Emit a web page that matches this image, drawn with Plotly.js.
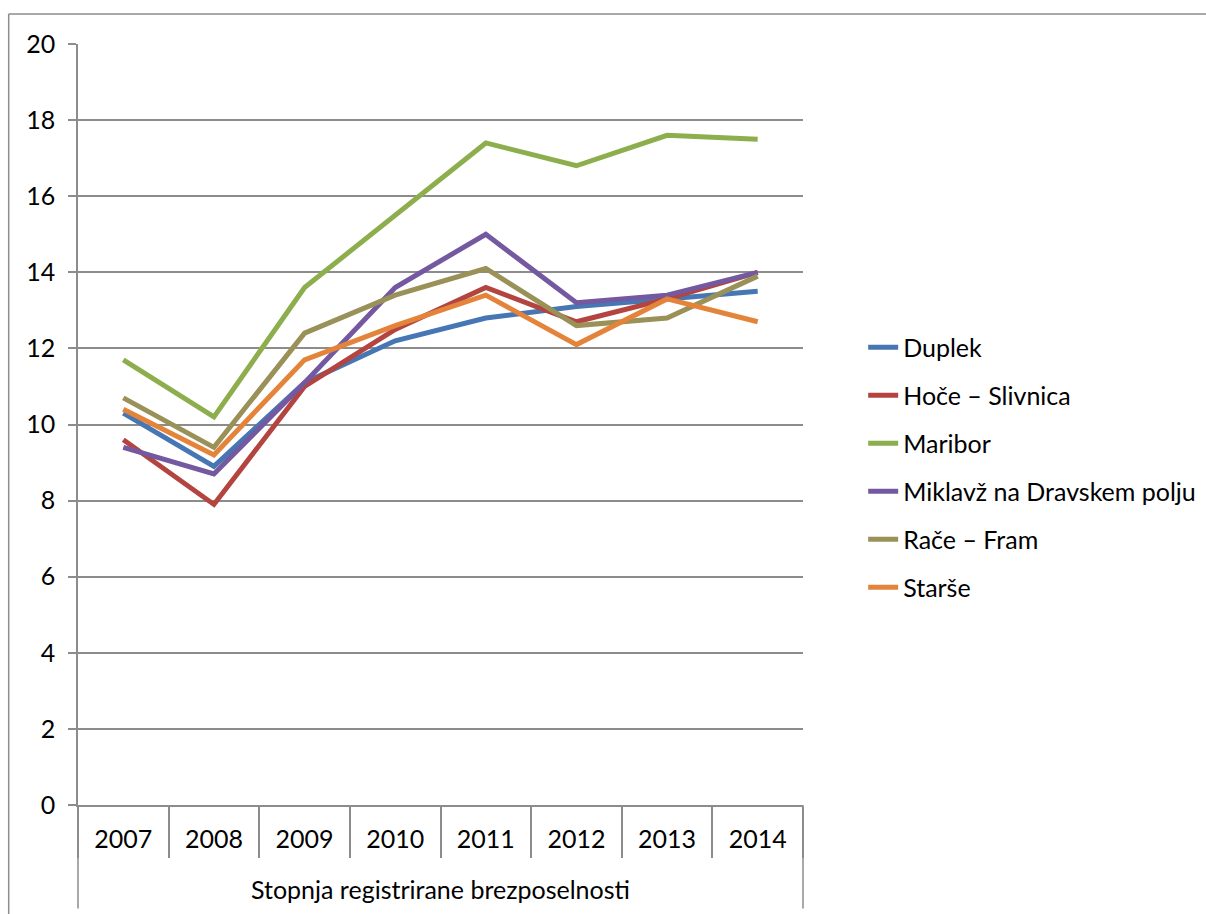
<!DOCTYPE html>
<html>
<head>
<meta charset="utf-8">
<script src="https://cdn.plot.ly/plotly-3.0.1.min.js"></script>
<style>
  html, body { margin: 0; padding: 0; background: #fff; }
  #chart { width: 1206px; height: 914px; }
</style>
</head>
<body>
<div id="chart"></div>
<script>
// Registered unemployment rate (%) by municipality, 2007–2014
const years = ["2007", "2008", "2009", "2010", "2011", "2012", "2013", "2014"];
const groupLabel = "Stopnja registrirane brezposelnosti";

const duplek   = [10.3, 8.9, 11.1, 12.2, 12.8, 13.1, 13.3, 13.5];
const hoce     = [9.6, 7.9, 11.0, 12.5, 13.6, 12.7, 13.3, 14.0];
const maribor  = [11.7, 10.2, 13.6, 15.5, 17.4, 16.8, 17.6, 17.5];
const miklavz  = [9.4, 8.7, 11.1, 13.6, 15.0, 13.2, 13.4, 14.0];
const raceFram = [10.7, 9.4, 12.4, 13.4, 14.1, 12.6, 12.8, 13.9];
const starse   = [10.4, 9.2, 11.7, 12.6, 13.4, 12.1, 13.3, 12.7];

const seriesNames = ["Duplek", "Hoče – Slivnica", "Maribor", "Miklavž na Dravskem polju", "Rače – Fram", "Starše"];
const seriesValues = [duplek, hoce, maribor, miklavz, raceFram, starse];
const seriesColors = ["#4677B4", "#B4443F", "#8DAE4D", "#7459A0", "#999157", "#E4843A"];

const FONT = "Lato, 'Open Sans', sans-serif";
const FSIZE = 25;
const GRID = "#8c8c8c";

const traces = seriesNames.map((name, i) => ({
  type: "scatter",
  mode: "lines",
  name: name,
  legendgroup: "g" + i,
  x: years,
  y: seriesValues[i],
  line: { color: seriesColors[i], width: 5 },
  hoverinfo: "x+y+name"
}));

const layout = {
  width: 1206,
  height: 914,
  margin: { l: 78, r: 403, t: 44, b: 109, autoexpand: false },
  paper_bgcolor: "#ffffff",
  plot_bgcolor: "#ffffff",
  font: { family: FONT, size: FSIZE, color: "#000000" },
  showlegend: true,
  legend: {
    x: 1.083,
    xanchor: "left",
    y: 0.4435,
    yanchor: "middle",
    font: { family: FONT, size: FSIZE, color: "#000000" },
    tracegroupgap: 12.5,
    bgcolor: "rgba(0,0,0,0)",
    borderwidth: 0
  },
  xaxis: {
    type: "category",
    categoryarray: years,
    range: [-0.5, years.length - 0.5],
    tickson: "boundaries",
    ticks: "outside",
    ticklen: 51,
    tickwidth: 1.5,
    tickcolor: GRID,
    ticklabelstandoff: 11,
    showline: true,
    linecolor: GRID,
    linewidth: 1.5,
    showgrid: false,
    zeroline: false,
    automargin: false,
    tickfont: { family: FONT, size: FSIZE, color: "#000000" },
    fixedrange: true
  },
  yaxis: {
    range: [0, 20],
    dtick: 2,
    tick0: 0,
    ticks: "outside",
    ticklen: 8,
    tickwidth: 1.5,
    tickcolor: GRID,
    ticklabelstandoff: 8,
    showline: true,
    linecolor: GRID,
    linewidth: 1.5,
    showgrid: true,
    gridcolor: GRID,
    gridwidth: 1.5,
    zeroline: false,
    automargin: false,
    tickfont: { family: FONT, size: FSIZE, color: "#000000" },
    fixedrange: true
  },
  annotations: [{
    text: groupLabel,
    xref: "paper", yref: "paper",
    x: 0.5, y: -0.1104,
    xanchor: "center", yanchor: "middle",
    showarrow: false,
    font: { family: FONT, size: FSIZE, color: "#000000" }
  }],
  shapes: [
    // outer bracket of the category group below the axis
    { type: "line", xref: "paper", yref: "paper", x0: 0, x1: 0, y0: 0, y1: -0.136,
      line: { color: GRID, width: 1.5 } },
    { type: "line", xref: "paper", yref: "paper", x0: 1, x1: 1, y0: 0, y1: -0.136,
      line: { color: GRID, width: 1.5 } },
    // chart frame (left and top edges)
    { type: "line", xref: "paper", yref: "paper", x0: -0.0956, x1: -0.0956, y0: 1.0394, y1: -0.15,
      line: { color: GRID, width: 1.5 } },
    { type: "line", xref: "paper", yref: "paper", x0: -0.0956, x1: 1.6, y0: 1.0394, y1: 1.0394,
      line: { color: GRID, width: 1.5 } }
  ]
};

Plotly.newPlot("chart", traces, layout, { displayModeBar: false });
</script>
</body>
</html>
